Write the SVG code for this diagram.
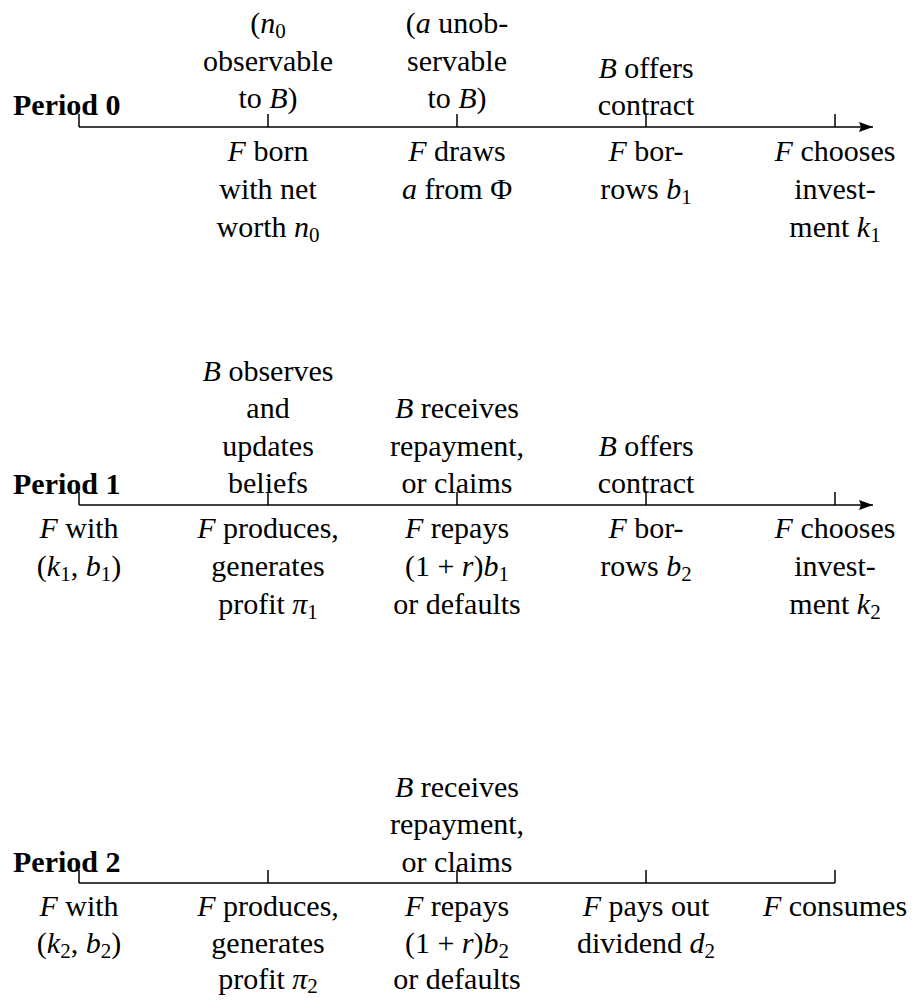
<svg xmlns="http://www.w3.org/2000/svg" width="919" height="1000" viewBox="0 0 919 1000">
<style>
.t{font-family:'Liberation Serif','DejaVu Serif',serif;font-size:30px;text-anchor:middle;fill:#000}
.i{font-style:italic}
.s{font-size:21px;font-style:normal}
.b{font-family:'Liberation Serif','DejaVu Serif',serif;font-size:30px;font-weight:bold;fill:#000}
.ax{stroke:#000;stroke-width:1.5;fill:none}
</style>
<defs>
<marker id="ah" markerWidth="14" markerHeight="10" refX="14" refY="5" orient="auto" markerUnits="userSpaceOnUse">
<path d="M0,0 L14,5 L0,10 L2,5 Z" fill="#000"/>
</marker>
</defs>
<g id="connectors">
<path class="ax" d="M79,127 H873" marker-end="url(#ah)"/>
<path class="ax" d="M79,114 V127 M268,114 V127 M457,114 V127 M646,114 V127 M835,114 V127"/>
<path class="ax" d="M79,505 H873" marker-end="url(#ah)"/>
<path class="ax" d="M79,492 V505 M268,492 V505 M457,492 V505 M646,492 V505 M835,492 V505"/>
<path class="ax" d="M79,883 H835"/>
<path class="ax" d="M79,870 V883 M268,870 V883 M457,870 V883 M646,870 V883 M835,870 V883"/>
</g>
<g id="period0">
<text class="b" x="13" y="115">Period 0</text>
<g id="p0-n0obs">
<text class="t" x="268" y="33">(<tspan class="i">n</tspan><tspan class="s" dy="5">0</tspan></text>
<text class="t" x="268" y="71">observable</text>
<text class="t" x="268" y="108">to <tspan class="i">B</tspan>)</text>
</g>
<g id="p0-aunobs">
<text class="t" x="457" y="33">(<tspan class="i">a</tspan> unob-</text>
<text class="t" x="457" y="71">servable</text>
<text class="t" x="457" y="108">to <tspan class="i">B</tspan>)</text>
</g>
<g id="p0-offers">
<text class="t" x="646" y="78"><tspan class="i">B</tspan> offers</text>
<text class="t" x="646" y="115">contract</text>
</g>
<g id="p0-born">
<text class="t" x="268" y="161"><tspan class="i">F</tspan> born</text>
<text class="t" x="268" y="199">with net</text>
<text class="t" x="268" y="237">worth <tspan class="i">n</tspan><tspan class="s" dy="5">0</tspan></text>
</g>
<g id="p0-draws">
<text class="t" x="457" y="161"><tspan class="i">F</tspan> draws</text>
<text class="t" x="457" y="199"><tspan class="i">a</tspan> from Φ</text>
</g>
<g id="p0-borrows">
<text class="t" x="646" y="161"><tspan class="i">F</tspan> bor-</text>
<text class="t" x="646" y="199">rows <tspan class="i">b</tspan><tspan class="s" dy="5">1</tspan></text>
</g>
<g id="p0-invest">
<text class="t" x="835" y="161"><tspan class="i">F</tspan> chooses</text>
<text class="t" x="835" y="199">invest-</text>
<text class="t" x="835" y="237">ment <tspan class="i">k</tspan><tspan class="s" dy="5">1</tspan></text>
</g>
</g>
<g id="period1">
<text class="b" x="13" y="494">Period 1</text>
<g id="p1-observes">
<text class="t" x="268" y="381"><tspan class="i">B</tspan> observes</text>
<text class="t" x="268" y="418">and</text>
<text class="t" x="268" y="456">updates</text>
<text class="t" x="268" y="493">beliefs</text>
</g>
<g id="p1-receives">
<text class="t" x="457" y="418"><tspan class="i">B</tspan> receives</text>
<text class="t" x="457" y="456">repayment,</text>
<text class="t" x="457" y="493">or claims</text>
</g>
<g id="p1-offers">
<text class="t" x="646" y="456"><tspan class="i">B</tspan> offers</text>
<text class="t" x="646" y="493">contract</text>
</g>
<g id="p1-with">
<text class="t" x="79" y="538"><tspan class="i">F</tspan> with</text>
<text class="t" x="79" y="576">(<tspan class="i">k</tspan><tspan class="s" dy="5">1</tspan><tspan dy="-5">, </tspan><tspan class="i">b</tspan><tspan class="s" dy="5">1</tspan><tspan dy="-5">)</tspan></text>
</g>
<g id="p1-produces">
<text class="t" x="268" y="538"><tspan class="i">F</tspan> produces,</text>
<text class="t" x="268" y="576">generates</text>
<text class="t" x="268" y="614">profit <tspan class="i">π</tspan><tspan class="s" dy="5">1</tspan></text>
</g>
<g id="p1-repays">
<text class="t" x="457" y="538"><tspan class="i">F</tspan> repays</text>
<text class="t" x="457" y="576">(1 + <tspan class="i">r</tspan>)<tspan class="i">b</tspan><tspan class="s" dy="5">1</tspan></text>
<text class="t" x="457" y="614">or defaults</text>
</g>
<g id="p1-borrows">
<text class="t" x="646" y="538"><tspan class="i">F</tspan> bor-</text>
<text class="t" x="646" y="576">rows <tspan class="i">b</tspan><tspan class="s" dy="5">2</tspan></text>
</g>
<g id="p1-invest">
<text class="t" x="835" y="538"><tspan class="i">F</tspan> chooses</text>
<text class="t" x="835" y="576">invest-</text>
<text class="t" x="835" y="614">ment <tspan class="i">k</tspan><tspan class="s" dy="5">2</tspan></text>
</g>
</g>
<g id="period2">
<text class="b" x="13" y="872">Period 2</text>
<g id="p2-receives">
<text class="t" x="457" y="797"><tspan class="i">B</tspan> receives</text>
<text class="t" x="457" y="834">repayment,</text>
<text class="t" x="457" y="872">or claims</text>
</g>
<g id="p2-with">
<text class="t" x="79" y="916"><tspan class="i">F</tspan> with</text>
<text class="t" x="79" y="953">(<tspan class="i">k</tspan><tspan class="s" dy="5">2</tspan><tspan dy="-5">, </tspan><tspan class="i">b</tspan><tspan class="s" dy="5">2</tspan><tspan dy="-5">)</tspan></text>
</g>
<g id="p2-produces">
<text class="t" x="268" y="916"><tspan class="i">F</tspan> produces,</text>
<text class="t" x="268" y="953">generates</text>
<text class="t" x="268" y="989">profit <tspan class="i">π</tspan><tspan class="s" dy="4">2</tspan></text>
</g>
<g id="p2-repays">
<text class="t" x="457" y="916"><tspan class="i">F</tspan> repays</text>
<text class="t" x="457" y="953">(1 + <tspan class="i">r</tspan>)<tspan class="i">b</tspan><tspan class="s" dy="5">2</tspan></text>
<text class="t" x="457" y="989">or defaults</text>
</g>
<g id="p2-dividend">
<text class="t" x="646" y="916"><tspan class="i">F</tspan> pays out</text>
<text class="t" x="646" y="953">dividend <tspan class="i">d</tspan><tspan class="s" dy="5">2</tspan></text>
</g>
<g id="p2-consumes">
<text class="t" x="835" y="916"><tspan class="i">F</tspan> consumes</text>
</g>
</g>
</svg>
